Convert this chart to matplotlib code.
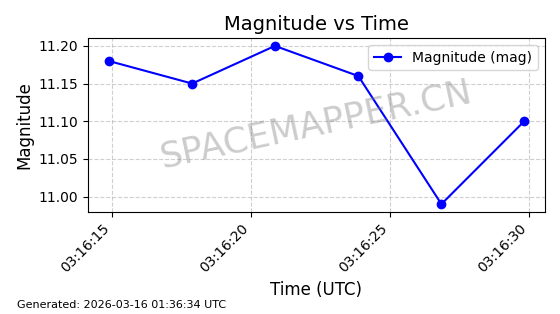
import matplotlib
matplotlib.use("Agg")
import matplotlib.pyplot as plt
import matplotlib.dates as mdates
import pandas as pd

times = ["2026-03-16 03:16:14.88", "2026-03-16 03:16:17.88", "2026-03-16 03:16:20.86",
         "2026-03-16 03:16:23.86", "2026-03-16 03:16:26.85", "2026-03-16 03:16:29.83"]
magnitudes = [11.18, 11.15, 11.20, 11.16, 10.99, 11.10]
title = "Magnitude vs Time"
xlabel = "Time (UTC)"
ylabel = "Magnitude"
legend_label = "Magnitude (mag)"
footer = "Generated: 2026-03-16 01:36:34 UTC"
watermark = "SPACEMAPPER.CN"

t = pd.to_datetime(times)

fig = plt.figure(figsize=(5.6, 3.14), dpi=100)
ax = fig.add_axes([88/560, 1 - 212/314, (545-88)/560, (212-38)/314])
ax.plot(t, magnitudes, color="blue", marker="o", linewidth=1.5, markersize=6, label=legend_label)
ax.set_title(title, fontsize=14)
ax.set_xlabel(xlabel, fontsize=12)
ax.set_ylabel(ylabel, fontsize=12)
ax.grid(True, linestyle="--", alpha=0.6)
ax.xaxis.set_major_locator(mdates.SecondLocator(bysecond=range(0, 60, 5)))
ax.xaxis.set_major_formatter(mdates.DateFormatter("%H:%M:%S"))
ax.yaxis.set_major_formatter(matplotlib.ticker.FormatStrFormatter("%.2f"))
plt.setp(ax.get_xticklabels(), rotation=45, ha="right")
ax.legend(loc="upper right")
ax.text(0.5, 0.5, watermark, transform=ax.transAxes, fontsize=25.5, color="gray",
        alpha=0.4, rotation=12, ha="center", va="center")
fig.text(17/560, 1 - 305/314, footer, fontsize=8, ha="left", va="center")
fig.savefig("out.png", dpi=100)
